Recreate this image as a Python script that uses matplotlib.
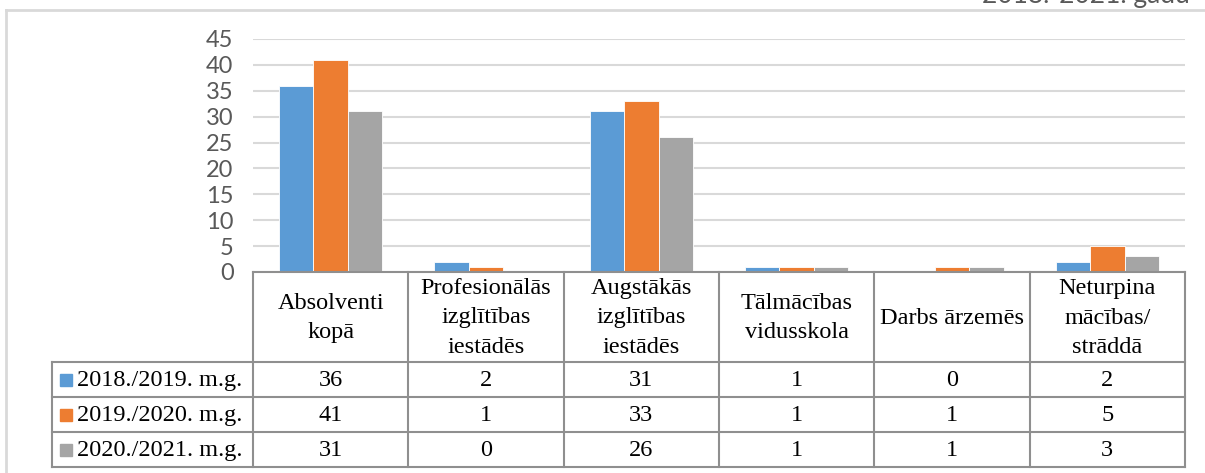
import numpy as np
import matplotlib.pyplot as plt
from matplotlib.lines import Line2D

# Data
categories = ['Absolventi\nkopā', 'Profesionālās\nizglītības\niestādēs', 'Augstākās\nizglītības\niestādēs',
              'Tālmācības\nvidusskola', 'Darbs ārzemēs', 'Neturpina\nmācības/\nstrāddā']
series_names = ['2018./2019. m.g.', '2019./2020. m.g.', '2020./2021. m.g.']
vals_2019 = [36, 2, 31, 1, 0, 2]
vals_2020 = [41, 1, 33, 1, 1, 5]
vals_2021 = [31, 0, 26, 1, 1, 3]
series_vals = [vals_2019, vals_2020, vals_2021]
colors = ['#5B9BD5', '#ED7D31', '#A5A5A5']
yticks = [0, 5, 10, 15, 20, 25, 30, 35, 40, 45]

W, H = 1205, 473
fig = plt.figure(figsize=(W / 100, H / 100), dpi=100)

def fx(px):
    return px / W

def fy(py):
    return 1 - py / H

# outer chart border (partly visible)
fig.add_artist(Line2D([fx(6), fx(6)], [fy(10), 0], color='#d9d9d9', lw=2, transform=fig.transFigure))
fig.add_artist(Line2D([fx(6), 1], [fy(10), fy(10)], color='#d9d9d9', lw=2, transform=fig.transFigure))
fig.text(fx(1190), fy(3), '2018.-2021. gadu', ha='right', va='baseline',
         fontsize=19, color='#595959', family='Lato')

# bar chart area
ax = fig.add_axes([fx(253), fy(272), fx(1185 - 253), (272 - 39) / H])
x = np.arange(len(categories))
bw = 0.222
for k, (vals, c) in enumerate(zip(series_vals, colors)):
    ax.bar(x + (k - 1) * bw, vals, width=bw, color=c, edgecolor='white', linewidth=0.6, zorder=3)

ax.set_xlim(-0.5, len(categories) - 0.5)
ax.set_ylim(0, 45)
ax.set_yticks(yticks)
ax.set_xticks([])
ax.grid(axis='y', color='#d9d9d9', lw=1.5, zorder=0)
for s in ['top', 'right', 'left', 'bottom']:
    ax.spines[s].set_visible(False)
ax.tick_params(axis='y', length=0, pad=14, labelsize=17, labelcolor='#595959')
for lab in ax.get_yticklabels():
    lab.set_family('Lato')

# data table under the chart
tab = fig.add_axes([fx(52), fy(467), fx(1185 - 52), (467 - 272) / H])
cw = (1185 - 253) / len(categories)
x0 = -0.5 - (253 - 52) / cw
tab.set_xlim(x0, len(categories) - 0.5)
tab.set_ylim(195, 0)
tab.axis('off')

lc = '#8f8f8f'
lw = 1.5
row_y = [90, 125, 160, 195]
# horizontal lines
tab.plot([-0.5, len(categories) - 0.5], [0, 0], color=lc, lw=lw, clip_on=False)
for yy in row_y:
    tab.plot([x0, len(categories) - 0.5], [yy, yy], color=lc, lw=lw, clip_on=False)
# vertical lines
tab.plot([x0, x0], [90, 195], color=lc, lw=lw, clip_on=False)
for i in range(len(categories) + 1):
    xx = i - 0.5
    tab.plot([xx, xx], [0, 195], color=lc, lw=lw, clip_on=False)

tfont = dict(family='Liberation Serif', fontsize=17.5, color='black')
for i, cat in enumerate(categories):
    tab.text(i, 46, cat, ha='center', va='center', linespacing=1.55, **tfont)

for r, (name, vals, c) in enumerate(zip(series_names, series_vals, colors)):
    yc = (row_y[r] + row_y[r + 1]) / 2
    sq = x0 + (66 - 52) / cw
    tab.plot(sq, yc, marker='s', ms=9, color=c, clip_on=False)
    tab.text(x0 + (77 - 52) / cw, yc + 1, name, ha='left', va='center', **tfont)
    for i, v in enumerate(vals):
        tab.text(i, yc + 1, str(v), ha='center', va='center', **tfont)

fig.savefig('out.png', dpi=100)
